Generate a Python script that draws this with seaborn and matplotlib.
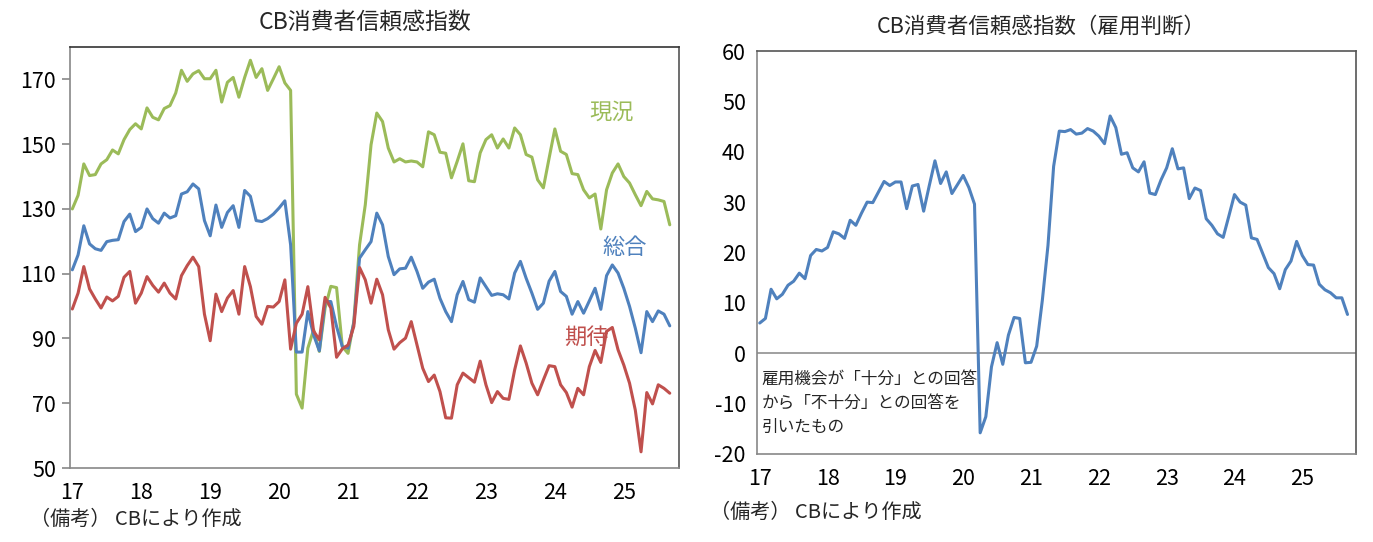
import matplotlib
matplotlib.use("Agg")
import matplotlib.pyplot as plt
import seaborn as sns
import numpy as np
import pandas as pd

sns.set_style("white")
plt.rcParams["font.family"] = ["Noto Sans CJK JP", "DejaVu Sans"]
plt.rcParams["axes.unicode_minus"] = False

# monthly data, 2017-01 .. 2025-09
present = [130.0, 134.2, 143.9, 140.3, 140.6, 143.9, 145.2, 148.2, 147.0, 151.4, 154.5, 156.3,
           154.7, 161.2, 158.3, 157.5, 161.0, 161.9, 165.8, 172.8, 169.4, 171.7, 172.7, 170.2,
           170.2, 172.8, 163.0, 169.1, 170.6, 164.5, 170.6, 175.9, 170.6, 173.3, 166.6, 170.2,
           173.9, 168.9, 166.6, 72.8, 68.5, 87.0, 92.7, 86.0, 99.4, 106.1, 105.7, 87.5,
           85.4, 95.2, 118.9, 131.3, 149.8, 159.6, 157.0, 148.8, 144.5, 145.5, 144.5, 144.8,
           144.5, 143.0, 153.8, 152.9, 147.5, 147.2, 139.6, 144.7, 150.1, 138.7, 138.4, 147.3,
           151.4, 152.9, 148.8, 151.6, 148.8, 155.0, 152.9, 146.8, 146.0, 139.0, 136.5, 145.7,
           154.7, 147.8, 146.8, 140.9, 140.6, 135.9, 133.4, 134.6, 123.8, 135.9, 141.1, 143.9,
           140.0, 138.0, 134.4, 131.0, 135.4, 133.1, 132.8, 132.3, 125.1]
total = [111.2, 115.8, 124.8, 119.2, 117.7, 117.2, 119.9, 120.3, 120.5, 126.1, 128.4, 123.0,
         124.3, 130.0, 127.0, 125.6, 128.7, 127.2, 127.9, 134.6, 135.3, 137.7, 136.2, 126.4,
         121.7, 131.2, 124.3, 128.9, 131.0, 124.3, 135.7, 133.9, 126.4, 126.1, 127.0, 128.4,
         130.3, 132.5, 118.9, 85.8, 85.8, 98.3, 91.1, 86.2, 101.4, 101.4, 93.7, 87.5,
         87.0, 94.7, 114.8, 117.4, 119.9, 128.7, 125.1, 115.3, 109.7, 111.5, 111.7, 115.1,
         110.7, 105.5, 107.4, 108.3, 102.4, 98.3, 95.2, 103.5, 107.6, 102.0, 101.2, 108.7,
         106.0, 103.3, 103.8, 103.5, 102.2, 110.2, 113.8, 108.6, 104.0, 99.0, 100.9, 107.7,
         110.7, 104.5, 103.0, 97.5, 101.4, 97.8, 101.6, 105.5, 99.0, 109.4, 112.7, 110.2,
         105.5, 99.9, 93.2, 85.6, 98.3, 95.2, 98.5, 97.5, 93.9]
expect = [99.1, 104.0, 112.2, 105.3, 102.2, 99.4, 102.8, 101.6, 103.0, 108.9, 110.7, 100.9,
          104.0, 109.1, 106.4, 104.3, 107.1, 104.0, 102.2, 109.4, 112.5, 115.1, 112.2, 97.5,
          89.3, 103.7, 98.3, 102.5, 104.8, 97.5, 112.2, 106.0, 96.8, 94.4, 99.9, 99.7,
          101.4, 108.1, 86.7, 94.7, 97.5, 106.0, 92.3, 89.6, 102.7, 99.4, 84.2, 86.8,
          88.0, 93.7, 111.9, 108.1, 100.9, 108.3, 103.5, 92.7, 86.7, 88.7, 90.1, 95.2,
          88.0, 80.8, 76.7, 78.7, 73.6, 65.5, 65.4, 75.7, 79.3, 77.9, 76.5, 83.0,
          75.7, 70.2, 73.6, 71.5, 71.2, 80.3, 87.7, 82.4, 76.2, 72.6, 77.2, 81.6,
          81.3, 75.7, 73.3, 68.8, 74.6, 72.6, 81.3, 86.3, 82.6, 92.2, 93.4, 86.5,
          81.8, 76.2, 67.9, 55.0, 73.3, 69.8, 75.7, 74.6, 73.1]
labor_diff = [6.0, 6.9, 12.7, 10.8, 11.7, 13.5, 14.3, 15.9, 14.8, 19.4, 20.6, 20.3,
              21.0, 24.1, 23.7, 22.8, 26.4, 25.4, 27.8, 30.0, 29.9, 32.0, 34.1, 33.3,
              34.0, 34.0, 28.7, 33.2, 33.5, 28.2, 33.3, 38.2, 33.7, 36.0, 31.7, 33.5,
              35.3, 32.9, 29.6, -15.8, -12.6, -2.7, 2.1, -2.2, 3.6, 7.1, 6.9, -1.9,
              -1.8, 1.4, 10.5, 21.4, 37.1, 44.1, 44.0, 44.4, 43.5, 43.7, 44.6, 44.1,
              43.1, 41.6, 47.1, 44.8, 39.5, 39.8, 36.8, 36.0, 38.0, 31.8, 31.5, 34.4,
              36.8, 40.6, 36.6, 36.8, 30.7, 32.8, 32.3, 26.7, 25.4, 23.7, 23.0, 27.2,
              31.5, 30.0, 29.4, 22.9, 22.6, 19.8, 17.0, 15.8, 12.8, 16.6, 18.3, 22.2,
              19.4, 17.6, 17.5, 13.7, 12.6, 12.0, 11.0, 11.0, 7.7]
year_labels = ["17", "18", "19", "20", "21", "22", "23", "24", "25"]

GREEN = "#9BBB59"
BLUE = "#4F81BD"
RED = "#C0504D"

months = np.arange(len(present))
df = pd.DataFrame({"m": months, "present": present, "total": total,
                   "expect": expect, "labor": labor_diff})
xticks = np.arange(len(year_labels)) * 12

fig = plt.figure(figsize=(13.73, 5.42), dpi=100)
ax1 = fig.add_axes([0.051, 0.1365, 0.4435, 0.7768])
ax2 = fig.add_axes([0.5513, 0.1624, 0.4363, 0.7435])

# left panel
sns.lineplot(data=df, x="m", y="present", color=GREEN, lw=2.2, ax=ax1)
sns.lineplot(data=df, x="m", y="total", color=BLUE, lw=2.2, ax=ax1)
sns.lineplot(data=df, x="m", y="expect", color=RED, lw=2.2, ax=ax1)
ax1.set_xlim(-0.4, 105.6)
ax1.set_ylim(50, 180)
ax1.set_yticks(np.arange(50, 171, 20))
ax1.text(93.8, 160, "現況", color=GREEN, fontsize=16, ha="center", va="center")
ax1.text(96.1, 118, "総合", color=BLUE, fontsize=16, ha="center", va="center")
ax1.text(89.5, 90.2, "期待", color=RED, fontsize=16, ha="center", va="center")

# right panel
sns.lineplot(data=df, x="m", y="labor", color=BLUE, lw=2.2, ax=ax2)
ax2.axhline(0, color="#999999", lw=1.3, zorder=1)
ax2.set_xlim(-0.5, 105.5)
ax2.set_ylim(-20, 60)
ax2.set_yticks(np.arange(-20, 61, 10))
ax2.text(0.3, -3.5, "雇用機会が「十分」との回答\nから「不十分」との回答を\n引いたもの",
         fontsize=12, va="top", ha="left", linespacing=1.55)

for ax in (ax1, ax2):
    ax.set_xticks(xticks)
    ax.set_xticklabels(year_labels)
    ax.set_xlabel("")
    ax.set_ylabel("")
    for s in ax.spines.values():
        s.set_color("#888888")
        s.set_linewidth(1.2)
    ax.tick_params(axis="both", labelsize=15.5, colors="black")
ax1.tick_params(axis="x", length=0, pad=10)
ax2.tick_params(axis="x", length=0, pad=10)
ax1.tick_params(axis="y", length=6, width=1.2, color="#888888", direction="out", left=True, pad=4)
ax2.tick_params(axis="y", length=0, pad=8)
ax1.spines["top"].set_color("#333333")
ax1.spines["right"].set_color("#555555")
ax2.spines["top"].set_color("#555555")
ax2.spines["right"].set_color("#555555")

fig.text(0.266, 0.958, "CB消費者信頼感指数", fontsize=16.5, ha="center", va="center")
fig.text(0.758, 0.950, "CB消費者信頼感指数（雇用判断）", fontsize=15.5, ha="center", va="center")
fig.text(0.022, 0.042, "（備考） CBにより作成", fontsize=14.5, ha="left", va="center")
fig.text(0.517, 0.055, "（備考） CBにより作成", fontsize=14.5, ha="left", va="center")

plt.savefig("out.png", dpi=100)
plt.close()
